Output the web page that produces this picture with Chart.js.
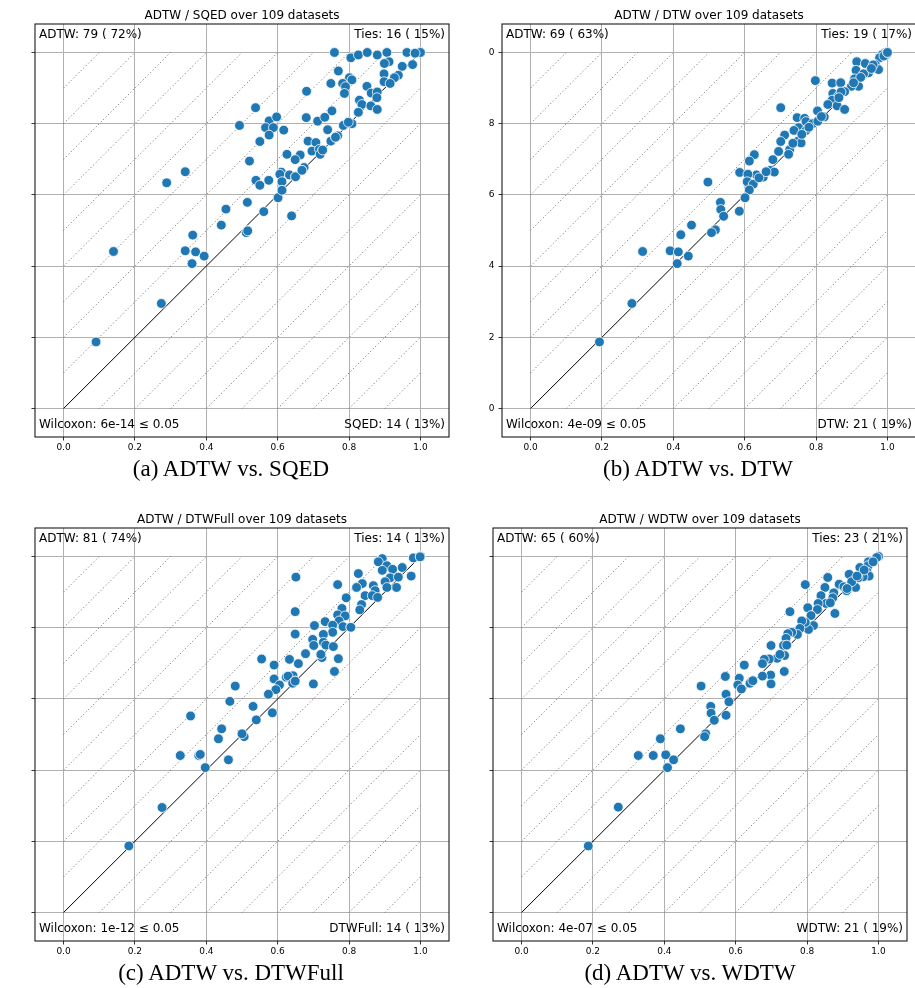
<!DOCTYPE html>
<html>
<head>
<meta charset="utf-8">
<script src="https://cdn.jsdelivr.net/npm/chart.js@4.4.0/dist/chart.umd.min.js"></script>
<style>
  html, body { margin: 0; padding: 0; background: #fff; }
  body { width: 915px; height: 988px; position: relative; overflow: hidden; }
  .clip { position: absolute; overflow: hidden; height: 460px; }
  .clip canvas { position: absolute; top: 0; }
  .cap { position: absolute; width: 400px; text-align: center; white-space: nowrap;
         font-family: "Liberation Serif", serif; font-size: 23px; color: #000; }
</style>
</head>
<body>
<div class="clip" style="left:29px;top:0;width:431px"><canvas id="p0" width="460" height="460" style="left:-29px"></canvas></div>
<div class="clip" style="left:489px;top:0;width:426px"><canvas id="p1" width="460" height="460" style="left:-22px"></canvas></div>
<div class="clip" style="left:29px;top:504px;width:431px"><canvas id="p2" width="460" height="460" style="left:-29px"></canvas></div>
<div class="clip" style="left:489px;top:504px;width:426px"><canvas id="p3" width="460" height="460" style="left:-31px"></canvas></div>
<div class="cap" id="cap0" style="left:31px;top:456px"></div>
<div class="cap" id="cap1" style="left:498px;top:456px"></div>
<div class="cap" id="cap2" style="left:31px;top:960px"></div>
<div class="cap" id="cap3" style="left:490px;top:960px"></div>
<script>
// accuracy pairs [x = other measure, y = ADTW] for each of the 4 comparisons
const opponents = ['SQED', 'DTW', 'DTWFull', 'WDTW'];
const captions = ['(a) ADTW vs. SQED', '(b) ADTW vs. DTW', '(c) ADTW vs. DTWFull', '(d) ADTW vs. WDTW'];
const nDatasets = 109;
const adtwWins = [79, 69, 81, 65];
const adtwPct = [72, 63, 74, 60];
const ties = [16, 19, 14, 23];
const tiesPct = [15, 17, 13, 21];
const otherWins = [14, 21, 14, 21];
const otherPct = [13, 19, 13, 19];
const wilcoxonP = ['6e-14', '4e-09', '1e-12', '4e-07'];

const tickValues = [0, 0.2, 0.4, 0.6, 0.8, 1.0];
const diagOffsets = [-0.9, -0.8, -0.7, -0.6, -0.5, -0.4, -0.3, -0.2, -0.1, 0.1, 0.2, 0.3, 0.4, 0.5, 0.6, 0.7, 0.8, 0.9];

const ptsSQED = [
  [0.759,1.0],[0.805,0.985],[0.826,0.993],[0.851,1.0],[0.879,0.993],[0.906,1.0],[0.962,1.0],[0.985,0.998],[1.0,1.0],
  [0.912,0.974],[0.899,0.969],[0.949,0.961],[0.978,0.966],[0.770,0.948],[0.898,0.940],[0.938,0.936],[0.927,0.929],
  [0.801,0.929],[0.808,0.923],[0.749,0.913],[0.782,0.913],[0.790,0.904],[0.787,0.885],[0.898,0.918],[0.915,0.913],
  [0.850,0.905],[0.862,0.886],[0.879,0.889],[0.681,0.891],[0.829,0.866],[0.836,0.854],[0.861,0.850],[0.878,0.873],
  [0.879,0.840],[0.826,0.832],[0.538,0.845],[0.752,0.836],[0.680,0.817],[0.712,0.807],[0.732,0.818],[0.798,0.804],
  [0.808,0.800],[0.784,0.795],[0.493,0.795],[0.576,0.808],[0.597,0.819],[0.566,0.789],[0.588,0.789],[0.617,0.782],
  [0.576,0.768],[0.550,0.750],[0.740,0.783],[0.685,0.751],[0.707,0.747],[0.749,0.751],[0.762,0.762],[0.768,0.766],
  [0.696,0.723],[0.717,0.728],[0.726,0.726],[0.719,0.714],[0.626,0.714],[0.663,0.712],[0.649,0.699],[0.521,0.695],
  [0.674,0.677],[0.668,0.669],[0.610,0.664],[0.606,0.658],[0.633,0.656],[0.650,0.651],[0.612,0.637],[0.539,0.641],
  [0.575,0.641],[0.550,0.627],[0.612,0.613],[0.601,0.592],[0.341,0.665],[0.515,0.579],[0.455,0.560],[0.561,0.553],
  [0.639,0.541],[0.442,0.515],[0.516,0.499],[0.512,0.494],[0.362,0.487],[0.341,0.443],[0.370,0.440],[0.394,0.428],
  [0.360,0.407],[0.289,0.634],[0.140,0.441],[0.274,0.295],[0.091,0.187],
  [1.0,1.0],[1.0,1.0],[1.0,1.0],[1.0,1.0],[0.985,0.998],[0.808,0.800],[0.762,0.762],[0.726,0.726],[0.612,0.613],
  [0.650,0.651],[0.668,0.669],[0.826,0.832],[0.798,0.804],[0.360,0.407],[0.516,0.499]
];

const ptsDTW = [
  [0.994,0.999],[0.984,0.993],[0.998,0.994],[0.978,0.985],[0.914,0.974],[0.938,0.969],[0.966,0.966],[0.975,0.952],
  [0.912,0.950],[0.947,0.943],[0.933,0.940],[0.908,0.926],[0.919,0.905],[0.899,0.905],[0.798,0.921],[0.845,0.914],
  [0.869,0.915],[0.880,0.890],[0.847,0.885],[0.863,0.878],[0.845,0.866],[0.833,0.854],[0.859,0.850],[0.880,0.840],
  [0.701,0.845],[0.804,0.836],[0.823,0.819],[0.747,0.817],[0.768,0.815],[0.772,0.806],[0.790,0.800],[0.805,0.807],
  [0.751,0.789],[0.738,0.781],[0.772,0.781],[0.712,0.768],[0.701,0.750],[0.749,0.751],[0.758,0.746],[0.726,0.727],
  [0.723,0.714],[0.695,0.722],[0.627,0.713],[0.613,0.695],[0.679,0.699],[0.672,0.669],[0.683,0.664],[0.652,0.650],
  [0.633,0.656],[0.586,0.663],[0.609,0.658],[0.607,0.637],[0.624,0.630],[0.613,0.614],[0.497,0.636],[0.601,0.592],
  [0.532,0.579],[0.533,0.559],[0.541,0.540],[0.585,0.554],[0.451,0.515],[0.518,0.502],[0.507,0.494],[0.421,0.488],
  [0.391,0.443],[0.414,0.440],[0.442,0.428],[0.411,0.407],[0.314,0.441],[0.284,0.295],[0.193,0.187],
  [0.870,0.889],[0.864,0.873],[0.960,0.965],[0.990,0.990],[0.955,0.955],[0.925,0.930],[0.905,0.915],[0.815,0.820],
  [0.780,0.790],[0.760,0.770],[0.735,0.745],[0.660,0.665],[0.640,0.648],[1.0,1.0],[1.0,1.0]
];

const ptsDTWFull = [
  [0.999,0.999],[0.980,0.996],[0.974,0.945],[0.949,0.969],[0.933,0.913],[0.893,0.994],[0.882,0.985],[0.906,0.974],
  [0.893,0.961],[0.922,0.964],[0.915,0.940],[0.901,0.929],[0.906,0.913],[0.938,0.942],[0.826,0.952],[0.768,0.921],
  [0.837,0.924],[0.821,0.913],[0.868,0.918],[0.873,0.904],[0.845,0.890],[0.865,0.890],[0.880,0.885],[0.835,0.865],
  [0.830,0.850],[0.792,0.884],[0.780,0.854],[0.651,0.942],[0.649,0.845],[0.768,0.836],[0.789,0.833],[0.772,0.819],
  [0.783,0.803],[0.805,0.801],[0.733,0.817],[0.754,0.807],[0.703,0.806],[0.754,0.787],[0.728,0.781],[0.649,0.782],
  [0.698,0.767],[0.701,0.750],[0.728,0.759],[0.735,0.751],[0.756,0.747],[0.770,0.713],[0.721,0.725],[0.724,0.716],
  [0.678,0.727],[0.633,0.711],[0.555,0.712],[0.658,0.699],[0.590,0.695],[0.759,0.677],[0.643,0.665],[0.624,0.661],
  [0.629,0.664],[0.649,0.650],[0.642,0.644],[0.700,0.642],[0.590,0.656],[0.605,0.639],[0.595,0.626],[0.481,0.636],
  [0.574,0.613],[0.466,0.593],[0.531,0.579],[0.585,0.561],[0.540,0.541],[0.443,0.516],[0.500,0.502],[0.506,0.494],
  [0.434,0.488],[0.356,0.552],[0.379,0.441],[0.383,0.444],[0.462,0.429],[0.397,0.407],[0.327,0.441],[0.276,0.295],
  [0.183,0.187],
  [1.0,1.0],[1.0,1.0],[0.999,0.999],[0.805,0.801],[0.649,0.650],[0.721,0.725],[0.500,0.502]
];

const ptsWDTW = [
  [0.995,0.997],[0.985,0.985],[0.972,0.985],[0.971,0.974],[0.968,0.957],[0.974,0.945],[0.948,0.969],[0.957,0.943],
  [0.943,0.940],[0.918,0.950],[0.890,0.922],[0.903,0.915],[0.912,0.910],[0.911,0.904],[0.936,0.913],[0.925,0.929],
  [0.858,0.941],[0.795,0.921],[0.850,0.913],[0.875,0.898],[0.872,0.884],[0.839,0.890],[0.853,0.868],[0.831,0.868],
  [0.829,0.851],[0.802,0.856],[0.878,0.840],[0.752,0.845],[0.811,0.834],[0.818,0.806],[0.804,0.795],[0.795,0.815],
  [0.785,0.819],[0.780,0.798],[0.773,0.781],[0.757,0.787],[0.746,0.783],[0.741,0.770],[0.743,0.751],[0.734,0.750],
  [0.699,0.750],[0.724,0.725],[0.737,0.722],[0.716,0.714],[0.694,0.712],[0.680,0.711],[0.675,0.699],[0.624,0.695],
  [0.736,0.677],[0.698,0.667],[0.699,0.642],[0.675,0.664],[0.648,0.651],[0.640,0.644],[0.610,0.658],[0.606,0.639],
  [0.571,0.663],[0.616,0.628],[0.573,0.613],[0.503,0.636],[0.581,0.592],[0.530,0.579],[0.531,0.560],[0.573,0.554],
  [0.540,0.540],[0.445,0.516],[0.516,0.502],[0.513,0.494],[0.389,0.488],[0.369,0.441],[0.404,0.443],[0.426,0.429],
  [0.409,0.407],[0.327,0.441],[0.271,0.296],[0.187,0.187],
  [1.0,1.0],[1.0,1.0],[1.0,1.0],[0.995,0.997],[0.985,0.985],[0.960,0.962],[0.940,0.945],[0.912,0.910],
  [0.865,0.870],[0.743,0.751],[0.724,0.725],[0.648,0.651]
];

const allPoints = [ptsSQED, ptsDTW, ptsDTWFull, ptsWDTW];

const pct = (v) => String(v).padStart(3, ' ');

// title, corner counts, outer frame
const cornerText = {
  id: 'cornerText',
  afterDraw(chart, args, o) {
    const { ctx, chartArea: a } = chart;
    ctx.save();
    ctx.strokeStyle = '#1a1a1a';
    ctx.lineWidth = 1.1;
    ctx.strokeRect(a.left, a.top, a.right - a.left, a.bottom - a.top);
    ctx.fillStyle = '#000';
    ctx.font = '12px "DejaVu Sans"';
    ctx.textBaseline = 'middle';
    ctx.textAlign = 'center';
    ctx.fillText(o.title, (a.left + a.right) / 2, a.top - 8.5);
    ctx.textAlign = 'left';
    ctx.fillText(o.tl, a.left + 4, a.top + 10.5);
    ctx.fillText(o.bl, a.left + 4, a.bottom - 12);
    ctx.textAlign = 'right';
    ctx.fillText(o.tr, a.right - 4, a.top + 10.5);
    ctx.fillText(o.br, a.right - 4, a.bottom - 12);
    ctx.restore();
  }
};

function axis(extra, pad) {
  return Object.assign({
    type: 'linear',
    min: -0.08,
    max: 1.08,
    afterBuildTicks: (s) => { s.ticks = tickValues.map((v) => ({ value: v })); },
    grid: { color: '#b0b0b0', lineWidth: 1, tickLength: 3.5, tickColor: '#000', tickWidth: 0.8 },
    border: { display: false },
    ticks: {
      color: '#000',
      padding: pad,
      font: { family: 'DejaVu Sans', size: 9 },
      maxRotation: 0,
      autoSkip: false,
      callback: (v) => Number(v).toFixed(1)
    }
  }, extra);
}

function renderPanel(i) {
  const pts = allPoints[i];
  const datasets = [
    {
      data: pts.map(([x, y]) => ({ x, y })),
      pointRadius: 4.9,
      pointHoverRadius: 4.9,
      pointBackgroundColor: '#1f77b4',
      pointBorderColor: '#ffffff',
      pointBorderWidth: 0.8
    },
    {
      data: [{ x: 0, y: 0 }, { x: 1, y: 1 }],
      showLine: true,
      borderColor: '#000',
      borderWidth: 1,
      pointRadius: 0
    }
  ];
  diagOffsets.forEach((k) => {
    const seg = k > 0 ? [{ x: 0, y: k }, { x: 1 - k, y: 1 }] : [{ x: -k, y: 0 }, { x: 1, y: 1 + k }];
    datasets.push({
      data: seg,
      showLine: true,
      borderColor: '#6e6e6e',
      borderWidth: 1,
      borderDash: [1.1, 2.4],
      pointRadius: 0
    });
  });

  new Chart(document.getElementById('p' + i), {
    type: 'scatter',
    data: { datasets },
    plugins: [cornerText],
    options: {
      responsive: false,
      animation: false,
      events: [],
      layout: { padding: { top: 24, right: 11, left: 0, bottom: 0 } },
      plugins: {
        legend: { display: false },
        tooltip: { enabled: false },
        cornerText: {
          title: `ADTW / ${opponents[i]} over ${nDatasets} datasets`,
          tl: `ADTW: ${adtwWins[i]} (${pct(adtwPct[i])}%)`,
          tr: `Ties: ${ties[i]} (${pct(tiesPct[i])}%)`,
          bl: `Wilcoxon: ${wilcoxonP[i]} \u2264 0.05`,
          br: `${opponents[i]}: ${otherWins[i]} (${pct(otherPct[i])}%)`
        }
      },
      scales: {
        x: axis({ afterFit: (s) => { s.height = 23; } }, 2),
        y: axis({ afterFit: (s) => { s.width = 35; } }, 4)
      }
    }
  });
  document.getElementById('cap' + i).textContent = captions[i];
}

[0, 1, 2, 3].forEach(renderPanel);
</script>
</body>
</html>
